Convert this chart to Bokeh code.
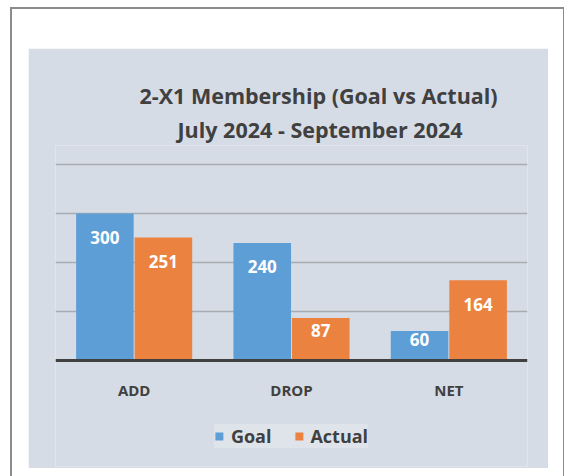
from bokeh.plotting import figure
from bokeh.models import (FactorRange, Range1d, Legend, LegendItem, Title,
                          ColumnDataSource, FixedTicker, Span)
from bokeh.transform import dodge
from bokeh.embed import file_html
from bokeh.resources import INLINE
from bokeh.core.properties import value

categories = ["ADD", "DROP", "NET"]
goal = [300, 240, 60]
actual = [251, 87, 164]
series = ["Goal", "Actual"]
title_line1 = "2-X1 Membership (Goal vs Actual)"
title_line2 = "July 2024 - September 2024"
grid_ticks = [100, 200, 300, 400]
y_max = 439     # headroom above the top gridline
y_min = -216.5  # room below the baseline for category labels and legend

PANEL = "#d6dce5"
LEGEND_BG = "#dfe4eb"
BLUE = "#5e9ed7"
ORANGE = "#ec8240"
TEXT = "#404040"
FONT = "Open Sans"


def label_pos(vals):
    return [max(v - 49, 0.7 * v) for v in vals]


src = ColumnDataSource(dict(
    cat=categories, goal=goal, actual=actual,
    goal_lbl=[str(v) for v in goal], actual_lbl=[str(v) for v in actual],
    goal_y=label_pos(goal), actual_y=label_pos(actual),
))

p = figure(x_range=FactorRange(factors=categories, range_padding=0),
           y_range=Range1d(y_min, y_max), frame_width=472, frame_height=321,
           output_backend="svg", toolbar_location=None, title=None,
           min_border_left=27, min_border_right=21,
           min_border_top=97, min_border_bottom=2,
           background_fill_color=PANEL, border_fill_color=PANEL,
           outline_line_color=None)

# outer white card with grey edge, drawn as CSS shadows around the panel
p.margin = (48, 0, 0, 28)
p.styles = {"box-shadow": ("-0.5px -23.5px 0 15.5px #ffffff, -0.5px 16.5px 0 15.5px #ffffff, "
                           "-1px -24px 0 17px #8c8c8c, -1px 16px 0 17px #8c8c8c")}

p.xaxis.visible = False
p.yaxis.visible = False
p.xgrid.visible = False
p.ygrid.ticker = FixedTicker(ticks=grid_ticks)
p.ygrid.grid_line_color = "#a7abb2"
p.ygrid.grid_line_width = 1.5

off = 0.186
bw = 0.366
g = p.vbar(x=dodge("cat", -off, range=p.x_range), top="goal", width=bw,
           source=src, fill_color=BLUE, line_color=None)
a = p.vbar(x=dodge("cat", off, range=p.x_range), top="actual", width=bw,
           source=src, fill_color=ORANGE, line_color=None)

# baseline at zero
p.add_layout(Span(location=0, dimension="width", line_color=TEXT, line_width=3))

for xs, ys, ts in [(-off, "goal_y", "goal_lbl"), (off, "actual_y", "actual_lbl")]:
    p.text(x=dodge("cat", xs, range=p.x_range), y=ys, text=ts, source=src,
           text_align="center", text_baseline="middle", text_color="white",
           text_font=value(FONT), text_font_style="bold", text_font_size="17px")

# category labels under the baseline
p.text(x="cat", y=0, text="cat", source=src, y_offset=30,
       text_align="center", text_baseline="middle", text_color=TEXT,
       text_font=value(FONT), text_font_style="bold", text_font_size="15px")

t2 = Title(text=title_line2, align="left", offset=122, standoff=4,
           text_font=FONT, text_font_style="bold", text_font_size="21.5px",
           text_color=TEXT)
t1 = Title(text=title_line1, align="left", offset=84, standoff=2,
           text_font=FONT, text_font_style="bold", text_font_size="21.5px",
           text_color=TEXT)
p.add_layout(t2, "above")
p.add_layout(t1, "above")

legend = Legend(items=[LegendItem(label=series[0], renderers=[g]),
                       LegendItem(label=series[1], renderers=[a])],
                orientation="horizontal", location="bottom_center",
                background_fill_color=LEGEND_BG, background_fill_alpha=1,
                border_line_color=None, label_text_font=FONT,
                label_text_font_style="bold", label_text_font_size="18px",
                label_text_color=TEXT, glyph_width=10, glyph_height=10,
                spacing=22, padding=10, margin=18, label_standoff=7)
p.add_layout(legend)

open("out.html", "w").write(file_html(p, INLINE))
